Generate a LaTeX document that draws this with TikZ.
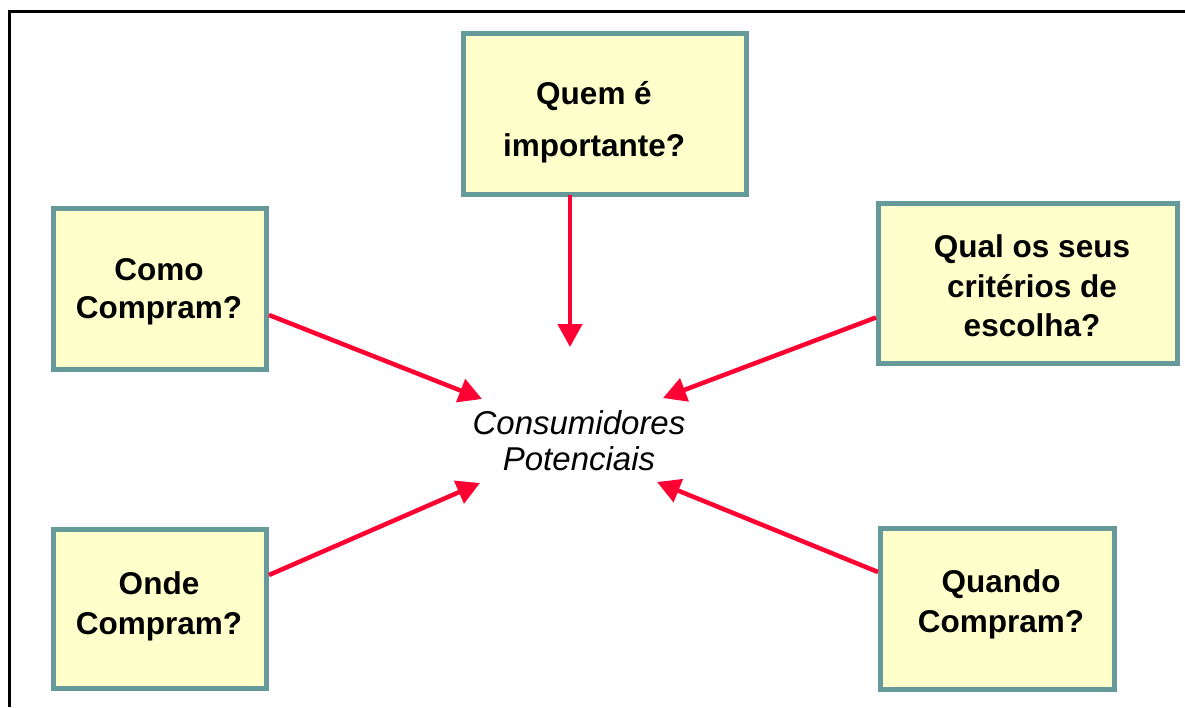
\documentclass[tikz,border=0pt]{standalone}
\usepackage{fontspec}
\setmainfont{Liberation Sans}
\usetikzlibrary{arrows.meta}
\definecolor{boxfill}{HTML}{FFFFCC}
\definecolor{boxline}{HTML}{669999}
\definecolor{arrred}{HTML}{FF0033}
\tikzset{
  qbox/.style={draw=boxline, fill=boxfill, line width=5pt, align=center,
    font=\bfseries\fontsize{31}{40}\selectfont, inner sep=0pt},
  redarrow/.style={draw=arrred, line width=4.5pt,
    -{Triangle[width=24pt,length=23pt]}},
}
\begin{document}
\begin{tikzpicture}[x=1pt,y=-1pt]
\useasboundingbox (0,0) rectangle (1185,707);
% frame
\draw[line width=3pt] (9,707) -- (9,11) -- (1185,11);
% boxes
\node[qbox, minimum width=283pt, minimum height=161pt] (quem) at (605,114) {};
\node[font=\bfseries\fontsize{31.5}{52}\selectfont, align=center] (quemt) at (594,122) {Quem é\\importante?};
\node[qbox, minimum width=213pt, minimum height=161pt] (como) at (160,289) {};
\node[font=\bfseries\fontsize{31.5}{38}\selectfont, align=center] (comot) at (159,292) {Como\\Compram?};
\node[qbox, minimum width=299pt, minimum height=160pt] (qual) at (1028,283.5) {};
\node[font=\bfseries\fontsize{31.5}{39.5}\selectfont, align=center] (qualt) at (1032,286) {Qual os seus\\critérios de\\escolha?};
\node[qbox, minimum width=213pt, minimum height=159pt] (onde) at (160,609) {};
\node[font=\bfseries\fontsize{31.5}{40}\selectfont, align=center] (ondet) at (159,606) {Onde\\Compram?};
\node[qbox, minimum width=234pt, minimum height=161pt] (quando) at (997.5,609) {};
\node[font=\bfseries\fontsize{31.5}{40}\selectfont, align=center] (quandot) at (1001,604) {Quando\\Compram?};
% center text
\node[font=\itshape\fontsize{33}{36}\selectfont, align=center] (cp) at (579,441) {Consumidores\\Potenciais};
% arrow tips
\coordinate (t1) at (570,347);
\coordinate (t2) at (482,399);
\coordinate (t3) at (663,398);
\coordinate (t4) at (480,483);
\coordinate (t5) at (657,482);
% arrows
\draw[redarrow] ([xshift=-35pt,yshift=2.5pt]quem.south) -- (t1);
\draw[redarrow] ([yshift=-26pt]como.east) -- (t2);
\draw[redarrow] ([yshift=-34pt]qual.west) -- (t3);
\draw[redarrow] ([yshift=34pt]onde.east) -- (t4);
\draw[redarrow] ([yshift=37pt]quando.west) -- (t5);
\end{tikzpicture}
\end{document}
